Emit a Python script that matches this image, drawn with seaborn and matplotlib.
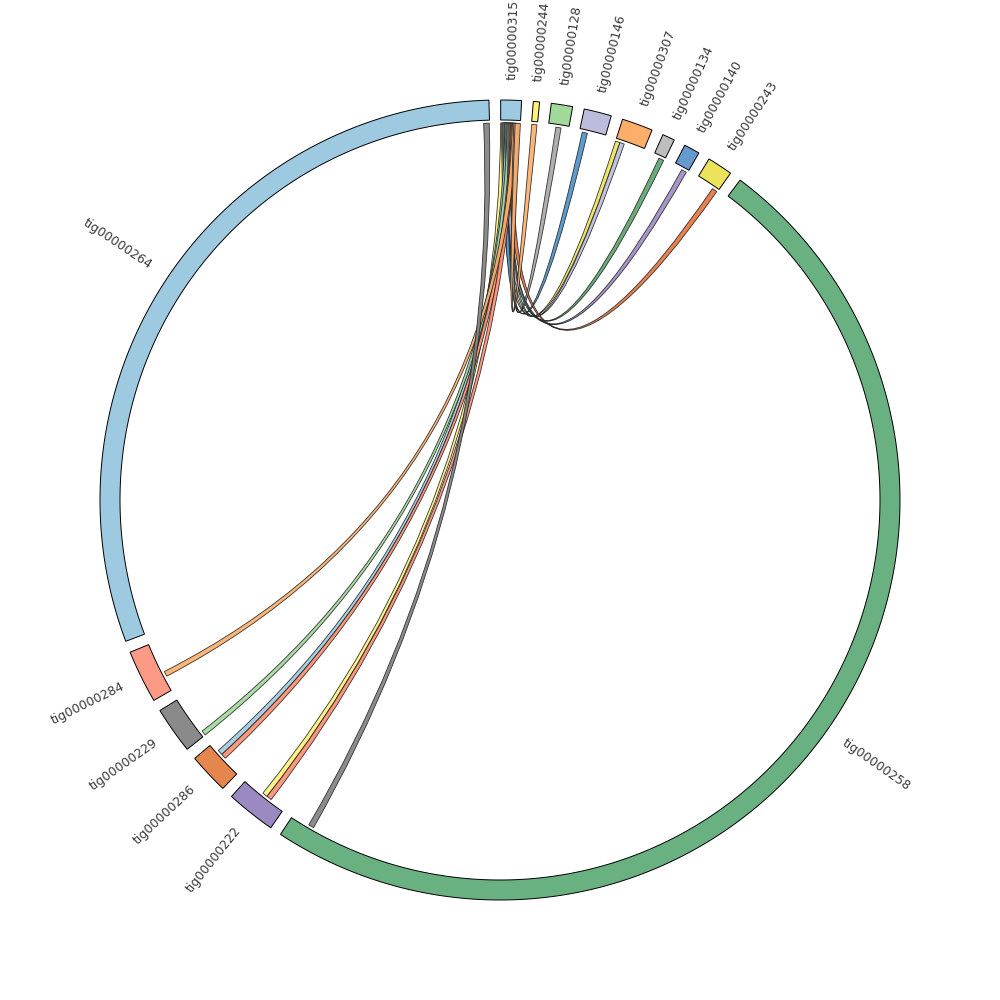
import numpy as np
import matplotlib
matplotlib.use("Agg")
import matplotlib.pyplot as plt
import seaborn as sns
from matplotlib.path import Path
from matplotlib.patches import PathPatch, Polygon

sns.set_theme(style="white")
plt.rcParams["font.family"] = ["DejaVu Sans"]

# contigs in clockwise order starting at the top, lengths in kb
contigs = [
    "tig00000315", "tig00000244", "tig00000128", "tig00000146", "tig00000307",
    "tig00000134", "tig00000140", "tig00000243", "tig00000258", "tig00000222",
    "tig00000286", "tig00000229", "tig00000284", "tig00000264",
]
contig_len = [60, 18, 62, 80, 90, 36, 46, 74, 3528, 144, 118, 136, 154, 2182]
contig_colors = [
    "#9ecae1", "#fff27a", "#a1d99b", "#bcbddc", "#fdae6b",
    "#bdbdbd", "#6699cc", "#ece35a", "#6ab182", "#9b89c2",
    "#e6864f", "#8a8a8a", "#fc9a85", "#9ecae1",
]

# links: contig A, start, end, contig B, start, end (kb), colour
link_a = ["tig00000315"] * 14 + ["tig00000264"]
link_a_start = [0, 3, 6, 10, 13, 16, 20, 23, 26, 30, 33, 36, 40, 44, 2164]
link_a_end = [16, 19, 22, 26, 29, 32, 36, 39, 42, 46, 49, 52, 56, 60, 2181]
link_b = [
    "tig00000222", "tig00000307", "tig00000140", "tig00000146", "tig00000286",
    "tig00000134", "tig00000229", "tig00000307", "tig00000243", "tig00000286",
    "tig00000222", "tig00000284", "tig00000128", "tig00000244", "tig00000258",
]
link_b_start = [64, 0, 26, 9, 74, 18, 0, 14, 56, 58, 48, 44, 23, 1, 3455]
link_b_end = [80, 14, 42, 25, 90, 34, 15, 28, 72, 74, 64, 60, 39, 17, 3472]
link_colors = [
    "#fff27a", "#ece35a", "#9e8bc4", "#4a90c8", "#9ecae1",
    "#5aa469", "#a1d99b", "#bcbddc", "#e6723c", "#fc8d70",
    "#fc8d70", "#fdae6b", "#a6a6a6", "#fdae6b", "#808080",
]

# layout
gap = 1.686
start_deg = 0.1
r_in, r_out, r_link, r_lab = 380, 400, 377, 420
scale = (360 - gap * len(contigs)) / sum(contig_len)

seg_start = {}
pos = start_deg
for name, ln in zip(contigs, contig_len):
    seg_start[name] = pos
    pos += ln * scale + gap


def to_deg(name, kb):
    return seg_start[name] + kb * scale


def polar(r, deg):
    t = np.deg2rad(deg)
    return r * np.sin(t), r * np.cos(t)


fig = plt.figure(figsize=(10, 10), dpi=100)
ax = fig.add_axes([0, 0, 1, 1])
ax.set_xlim(-500, 500)
ax.set_ylim(-500, 500)
ax.set_aspect("equal")
ax.axis("off")

# contig blocks
for name, ln, col in zip(contigs, contig_len, contig_colors):
    a0 = seg_start[name]
    a1 = a0 + ln * scale
    th = np.linspace(a0, a1, max(int((a1 - a0) * 4), 4))
    ox, oy = polar(r_out, th)
    ix, iy = polar(r_in, th[::-1])
    pts = np.column_stack([np.r_[ox, ix], np.r_[oy, iy]])
    ax.add_patch(Polygon(pts, closed=True, facecolor=col, edgecolor="black", lw=0.7, zorder=3))

    mid = (a0 + a1) / 2
    lx, ly = polar(r_lab, mid)
    if mid < 180:
        rot, ha = 90 - mid, "left"
    else:
        rot, ha = 270 - mid, "right"
    ax.text(lx, ly, name, rotation=rot, ha=ha, va="center", rotation_mode="anchor",
            fontsize=9, color="#3a3a3a")

# ribbons, quadratic bezier through the centre
for a, as_, ae, b, bs, be, col in zip(link_a, link_a_start, link_a_end,
                                      link_b, link_b_start, link_b_end, link_colors):
    a0, a1 = to_deg(a, as_), to_deg(a, ae)
    b0, b1 = to_deg(b, bs), to_deg(b, be)
    verts, codes = [], []
    tha = np.linspace(a0, a1, 6)
    for i, t in enumerate(tha):
        verts.append(polar(r_link, t))
        codes.append(Path.MOVETO if i == 0 else Path.LINETO)
    verts += [(0, 0), polar(r_link, b0)]
    codes += [Path.CURVE3, Path.CURVE3]
    for t in np.linspace(b0, b1, 6)[1:]:
        verts.append(polar(r_link, t))
        codes.append(Path.LINETO)
    verts += [(0, 0), polar(r_link, a0)]
    codes += [Path.CURVE3, Path.CURVE3]
    verts.append(polar(r_link, a0))
    codes.append(Path.CLOSEPOLY)
    ax.add_patch(PathPatch(Path(verts, codes), facecolor=col, edgecolor="#222222",
                           lw=0.6, alpha=0.9, zorder=2))

fig.savefig("out.png", dpi=100)
